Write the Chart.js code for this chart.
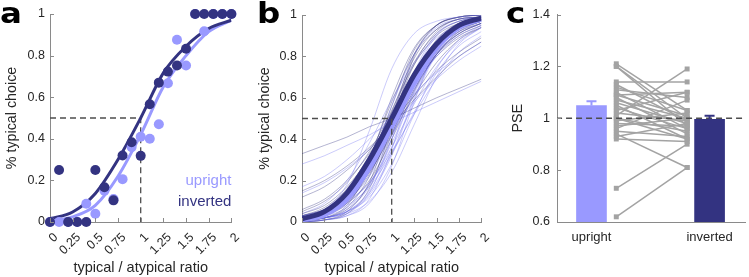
<!DOCTYPE html>
<html>
<head>
<meta charset="utf-8">
<script src="https://cdn.jsdelivr.net/npm/chart.js@4.4.1/dist/chart.umd.min.js"></script>
<style>
  body { margin: 0; background: #fff; width: 749px; height: 277px; overflow: hidden; position: relative; }
  .panel { position: absolute; top: 0; }
</style>
</head>
<body>
<div class="panel" style="left:0"><canvas id="chartA" width="250" height="277"></canvas></div>
<div class="panel" style="left:250px"><canvas id="chartB" width="250" height="277"></canvas></div>
<div class="panel" style="left:500px"><canvas id="chartC" width="249" height="277"></canvas></div>
<script>
// ---- DATA
// panel a: one example participant
const ratioSteps = [0, 0.1, 0.2, 0.3, 0.4, 0.5, 0.6, 0.7, 0.8, 0.9, 1, 1.1, 1.2, 1.3, 1.4, 1.5, 1.6, 1.7, 1.8, 1.9, 2];
const uprightChoice  = [0, 0, 0, 0, 0.088, 0.04, 0.15, 0.11, 0.206, 0.36, 0.41, 0.40, 0.47, 0.667, 0.876, 0.752, 1, 0.917, 1, 1, 1];
const invertedChoice = [0, 0.25, 0, 0, 0, 0.25, 0.167, 0.104, 0.32, 0.383, 0.318, 0.566, 0.67, 0.723, 0.752, 0.833, 1, 1, 1, 1, 1];

const fitX = [0, 0.25, 0.5, 0.75, 1, 1.25, 1.5, 1.75, 2];
const uprightFit  = [0.006, 0.025, 0.08, 0.22, 0.42, 0.65, 0.80, 0.915, 0.97];
const invertedFit = [0.016, 0.048, 0.137, 0.30, 0.50, 0.717, 0.845, 0.93, 0.97];

// panel b: group means + single subjects
const uprightMean  = [0.01, 0.035, 0.11, 0.26, 0.46, 0.67, 0.84, 0.94, 0.98];
const invertedMean = [0.015, 0.05, 0.14, 0.30, 0.50, 0.71, 0.86, 0.95, 0.985];
const invertedSubjects = [
  [0.33, 0.37, 0.41, 0.46, 0.50, 0.55, 0.60, 0.645, 0.69],
  [0.15, 0.20, 0.27, 0.36, 0.47, 0.59, 0.70, 0.80, 0.87],
  [0.02, 0.05, 0.13, 0.30, 0.54, 0.76, 0.90, 0.96, 0.99],
  [0.01, 0.03, 0.10, 0.27, 0.52, 0.77, 0.91, 0.97, 0.99],
  [0.03, 0.07, 0.16, 0.32, 0.52, 0.71, 0.85, 0.93, 0.97],
  [0.01, 0.02, 0.07, 0.22, 0.49, 0.76, 0.92, 0.98, 0.99],
  [0.04, 0.08, 0.17, 0.31, 0.49, 0.67, 0.81, 0.90, 0.95],
  [0.00, 0.01, 0.05, 0.19, 0.50, 0.81, 0.95, 0.99, 1.00],
  [0.02, 0.05, 0.11, 0.24, 0.43, 0.64, 0.81, 0.91, 0.96],
  [0.12, 0.17, 0.25, 0.35, 0.48, 0.61, 0.73, 0.82, 0.89],
  [0.01, 0.04, 0.12, 0.31, 0.58, 0.81, 0.93, 0.98, 0.99],
  [0.02, 0.04, 0.10, 0.23, 0.44, 0.67, 0.84, 0.93, 0.97],
  [0.01, 0.03, 0.09, 0.25, 0.53, 0.79, 0.93, 0.98, 0.99],
  [0.05, 0.10, 0.19, 0.34, 0.53, 0.71, 0.84, 0.92, 0.96],
  [0.00, 0.02, 0.08, 0.26, 0.56, 0.83, 0.95, 0.99, 1.00],
  [0.03, 0.06, 0.14, 0.28, 0.47, 0.66, 0.82, 0.91, 0.96],
  [0.01, 0.02, 0.06, 0.18, 0.42, 0.70, 0.88, 0.96, 0.99],
  [0.02, 0.04, 0.09, 0.20, 0.40, 0.63, 0.81, 0.92, 0.97],
  [0.00, 0.01, 0.04, 0.16, 0.46, 0.80, 0.95, 0.99, 1.00],
  [0.06, 0.11, 0.20, 0.33, 0.50, 0.67, 0.80, 0.89, 0.94],
  [0.01, 0.03, 0.11, 0.30, 0.60, 0.84, 0.95, 0.99, 1.00],
  [0.03, 0.06, 0.12, 0.24, 0.42, 0.61, 0.77, 0.88, 0.94]
];
const uprightSubjects = [
  [0.28, 0.32, 0.37, 0.42, 0.48, 0.53, 0.58, 0.63, 0.68],
  [0.02, 0.06, 0.18, 0.44, 0.74, 0.91, 0.97, 0.99, 1.00],
  [0.01, 0.02, 0.06, 0.17, 0.40, 0.68, 0.87, 0.95, 0.98],
  [0.01, 0.02, 0.05, 0.13, 0.32, 0.59, 0.81, 0.93, 0.97],
  [0.02, 0.04, 0.09, 0.19, 0.36, 0.57, 0.75, 0.87, 0.94],
  [0.00, 0.01, 0.04, 0.14, 0.40, 0.72, 0.91, 0.97, 0.99],
  [0.03, 0.06, 0.13, 0.26, 0.45, 0.65, 0.80, 0.90, 0.95],
  [0.01, 0.02, 0.05, 0.12, 0.28, 0.52, 0.74, 0.88, 0.95],
  [0.17, 0.22, 0.30, 0.40, 0.51, 0.62, 0.72, 0.80, 0.87],
  [0.01, 0.03, 0.10, 0.28, 0.56, 0.81, 0.94, 0.98, 0.99],
  [0.02, 0.04, 0.08, 0.17, 0.33, 0.53, 0.72, 0.85, 0.92],
  [0.00, 0.01, 0.03, 0.11, 0.35, 0.70, 0.90, 0.97, 0.99],
  [0.04, 0.09, 0.20, 0.38, 0.59, 0.77, 0.89, 0.95, 0.98],
  [0.01, 0.03, 0.07, 0.18, 0.38, 0.62, 0.81, 0.92, 0.96],
  [0.01, 0.02, 0.04, 0.10, 0.24, 0.47, 0.70, 0.86, 0.94],
  [0.02, 0.05, 0.12, 0.27, 0.48, 0.69, 0.84, 0.93, 0.97],
  [0.01, 0.02, 0.05, 0.15, 0.36, 0.63, 0.84, 0.94, 0.98],
  [0.01, 0.02, 0.05, 0.14, 0.33, 0.60, 0.82, 0.93, 0.98],
  [0.03, 0.05, 0.10, 0.19, 0.34, 0.52, 0.69, 0.82, 0.90],
  [0.00, 0.01, 0.03, 0.09, 0.27, 0.58, 0.84, 0.95, 0.99],
  [0.02, 0.04, 0.10, 0.22, 0.42, 0.64, 0.81, 0.91, 0.96],
  [0.14, 0.19, 0.26, 0.35, 0.46, 0.58, 0.69, 0.78, 0.85]
];

// panel c: PSE per subject (upright, inverted) and group mean +- sem
const pseUpright  = [1.21, 1.20, 1.20, 1.14, 1.13, 1.11, 1.10, 1.09, 1.08, 1.07, 1.06, 1.05, 1.03, 1.02, 1.01,
                     1.00, 0.99, 0.98, 0.96, 0.95, 0.94, 0.93, 0.92, 0.73, 0.62, 1.12, 1.04, 0.97, 1.09, 1.00];
const pseInverted = [1.03, 1.00, 0.97, 1.14, 0.99, 1.08, 0.96, 1.01, 0.94, 1.00, 0.98, 0.92, 1.10, 0.99, 1.19,
                     0.95, 1.02, 0.97, 1.07, 0.93, 0.81, 0.98, 0.91, 0.90, 0.81, 1.03, 0.96, 1.00, 1.10, 0.92];
const conditions = ['upright', 'inverted'];
const pseMean = [1.049, 0.996];
const pseSem  = [0.017, 0.014];

const ratioTicks = [0, 0.25, 0.5, 0.75, 1, 1.25, 1.5, 1.75, 2];

// ---- STYLE
const light = '#9999ff';
const dark = '#333381';
const axisGrey = '#8a8a8a';
const dashGrey = '#4d4d4d';
Chart.defaults.font.family = '"Liberation Sans", Arial, sans-serif';
Chart.defaults.color = '#262626';
Chart.defaults.animation = false;

function xy(xs, ys) { return xs.map((x, i) => ({x: x, y: ys[i]})); }
function plainNum(v) { return String(+Number(v).toFixed(2)); }

//-----PLUGINS
const inwardTicks = {
  id: 'inwardTicks',
  afterDatasetsDraw(chart, args, opts) {
    const ctx = chart.ctx, a = chart.chartArea;
    ctx.save();
    ctx.strokeStyle = axisGrey;
    ctx.lineWidth = 1;
    ctx.beginPath();
    if (opts.x) {
      chart.scales.x.ticks.forEach(t => {
        const px = Math.round(chart.scales.x.getPixelForValue(t.value)) + 0.5;
        ctx.moveTo(px, a.bottom); ctx.lineTo(px, a.bottom - 4);
      });
    }
    chart.scales.y.ticks.forEach(t => {
      const py = Math.round(chart.scales.y.getPixelForValue(t.value)) + 0.5;
      ctx.moveTo(a.left, py); ctx.lineTo(a.left + 4, py);
    });
    ctx.stroke();
    ctx.restore();
  }
};

const panelLetter = {
  id: 'panelLetter',
  afterDraw(chart, args, opts) {
    const ctx = chart.ctx;
    ctx.save();
    ctx.translate(opts.x, opts.y);
    ctx.scale(1.12, 1);
    ctx.font = 'bold 29px "DejaVu Sans", sans-serif';
    ctx.fillStyle = '#000';
    ctx.textBaseline = 'alphabetic';
    ctx.fillText(opts.text, 0, 0);
    ctx.restore();
  }
};

const legendText = {
  id: 'legendText',
  afterDraw(chart) {
    const ctx = chart.ctx, a = chart.chartArea;
    ctx.save();
    ctx.font = '15px "Liberation Sans", Arial, sans-serif';
    ctx.textAlign = 'right';
    ctx.textBaseline = 'alphabetic';
    ctx.fillStyle = light;
    ctx.fillText('upright', a.right, 185);
    ctx.fillStyle = dark;
    ctx.fillText('inverted', a.right, 206);
    ctx.restore();
  }
};

const errorBars = {
  id: 'errorBars',
  afterDatasetsDraw(chart) {
    const ctx = chart.ctx, ys = chart.scales.y;
    const meta = chart.getDatasetMeta(0);
    ctx.save();
    ctx.lineWidth = 2;
    meta.data.forEach((bar, i) => {
      const top = ys.getPixelForValue(pseMean[i] + pseSem[i]);
      ctx.strokeStyle = i === 0 ? light : dark;
      ctx.beginPath();
      ctx.moveTo(bar.x, bar.y); ctx.lineTo(bar.x, top);
      ctx.moveTo(bar.x - 5, top); ctx.lineTo(bar.x + 5, top);
      ctx.stroke();
    });
    ctx.restore();
  }
};

//-----AXES
function psyScales(yWidth, yTitlePad) {
  return {
    x: {
      type: 'linear', min: 0, max: 2,
      afterBuildTicks: s => { s.ticks = ratioTicks.map(v => ({value: v})); },
      ticks: { autoSkip: false, minRotation: 45, maxRotation: 45, padding: 8, labelOffset: 6, font: {size: 12.5}, callback: plainNum },
      grid: { drawOnChartArea: false, drawTicks: false },
      border: { color: axisGrey },
      title: { display: true, text: 'typical / atypical ratio', font: {size: 14.5}, padding: {top: 0, bottom: 0} },
      afterFit: s => { s.height = 55; }
    },
    y: {
      min: 0, max: 1,
      ticks: { stepSize: 0.2, padding: 5, font: {size: 12.5}, callback: plainNum },
      grid: { drawOnChartArea: false, drawTicks: false },
      border: { color: axisGrey },
      title: { display: true, text: '% typical choice', font: {size: 14.3}, padding: {top: yTitlePad, bottom: 0} },
      afterFit: s => { s.width = yWidth; }
    }
  };
}

function dashedGuide() {
  return {
    data: [{x: 0, y: 0.5}, {x: 1, y: 0.5}, {x: 1, y: 0}],
    borderColor: dashGrey, borderWidth: 1.3, borderDash: [6, 4],
    pointRadius: 0, tension: 0, order: 50
  };
}

//-----PANEL A
new Chart(document.getElementById('chartA'), {
  type: 'line',
  data: {
    datasets: [
      dashedGuide(),
      { data: xy(fitX, uprightFit), borderColor: light, borderWidth: 3, pointRadius: 0, cubicInterpolationMode: 'monotone', order: 40 },
      { data: xy(fitX, invertedFit), borderColor: dark, borderWidth: 3, pointRadius: 0, cubicInterpolationMode: 'monotone', order: 30 },
      { data: xy(ratioSteps, uprightChoice), showLine: false, pointRadius: 5, pointBackgroundColor: light, pointBorderWidth: 0, clip: false, order: 20 },
      { data: xy(ratioSteps, invertedChoice), showLine: false, pointRadius: 5, pointBackgroundColor: dark, pointBorderWidth: 0, clip: false, order: 10 }
    ]
  },
  options: {
    responsive: false,
    layout: { padding: {top: 14, right: 8, left: 0, bottom: 0} },
    scales: psyScales(50, 3),
    plugins: {
      legend: {display: false}, tooltip: {enabled: false},
      inwardTicks: {x: true},
      panelLetter: {text: 'a', x: 0, y: 23}
    }
  },
  plugins: [inwardTicks, panelLetter, legendText]
});

//-----PANEL B
const thinSets = [];
uprightSubjects.forEach((s, i) => {
  thinSets.push({ data: xy(fitX, s), borderColor: 'rgba(110,110,240,0.4)', borderWidth: 0.9, pointRadius: 0, cubicInterpolationMode: 'monotone', order: 100 + 2 * i });
});
invertedSubjects.forEach((s, i) => {
  thinSets.push({ data: xy(fitX, s), borderColor: 'rgba(45,45,125,0.4)', borderWidth: 0.9, pointRadius: 0, cubicInterpolationMode: 'monotone', order: 101 + 2 * i });
});

new Chart(document.getElementById('chartB'), {
  type: 'line',
  data: {
    datasets: thinSets.concat([
      { data: xy(fitX, uprightMean), borderColor: light, borderWidth: 5, pointRadius: 0, cubicInterpolationMode: 'monotone', order: 70 },
      { data: xy(fitX, invertedMean), borderColor: dark, borderWidth: 5, pointRadius: 0, cubicInterpolationMode: 'monotone', order: 60 },
      dashedGuide()
    ])
  },
  options: {
    responsive: false,
    layout: { padding: {top: 15, right: 5, left: 0, bottom: 0} },
    scales: psyScales(52, 6),
    plugins: {
      legend: {display: false}, tooltip: {enabled: false},
      inwardTicks: {x: true},
      panelLetter: {text: 'b', x: 7, y: 23}
    }
  },
  plugins: [inwardTicks, panelLetter]
});

//-----PANEL C
const subjectSets = pseUpright.map((u, i) => ({
  type: 'line',
  data: [{x: 1.21, y: u}, {x: 1.81, y: pseInverted[i]}],
  borderColor: '#a3a3a3', borderWidth: 1.5,
  pointStyle: 'rect', pointRadius: 3.5, pointBackgroundColor: '#a3a3a3', pointBorderWidth: 0,
  clip: false, order: 20
}));

new Chart(document.getElementById('chartC'), {
  type: 'bar',
  data: {
    datasets: [
      { data: xy([1, 2], pseMean), backgroundColor: [light, dark], barThickness: 30, order: 30 }
    ].concat(subjectSets).concat([
      { type: 'line', data: [{x: 0.7, y: 1}, {x: 2.3, y: 1}], borderColor: dashGrey, borderWidth: 1.3, borderDash: [6, 4], pointRadius: 0, order: 1 }
    ])
  },
  options: {
    responsive: false,
    layout: { padding: {top: 14, right: 1, left: 0, bottom: 0} },
    scales: {
      x: {
        type: 'linear', min: 0.708, max: 2.3, offset: false,
        afterBuildTicks: s => { s.ticks = [{value: 1}, {value: 2}]; },
        ticks: { autoSkip: false, maxRotation: 0, padding: 8, font: {size: 13}, callback: v => conditions[v - 1] },
        grid: { drawOnChartArea: false, drawTicks: false },
        border: { color: axisGrey },
        afterFit: s => { s.height = 55; }
      },
      y: {
        min: 0.6, max: 1.4,
        ticks: { stepSize: 0.2, padding: 7, font: {size: 12.5}, callback: plainNum },
        grid: { drawOnChartArea: false, drawTicks: false },
        border: { color: axisGrey },
        title: { display: true, text: 'PSE', font: {size: 14.3}, padding: {top: 9, bottom: 0} },
        afterFit: s => { s.width = 57; }
      }
    },
    plugins: {
      legend: {display: false}, tooltip: {enabled: false},
      inwardTicks: {x: false},
      panelLetter: {text: 'c', x: 6, y: 23}
    }
  },
  plugins: [inwardTicks, panelLetter, errorBars]
});
</script>
</body>
</html>
